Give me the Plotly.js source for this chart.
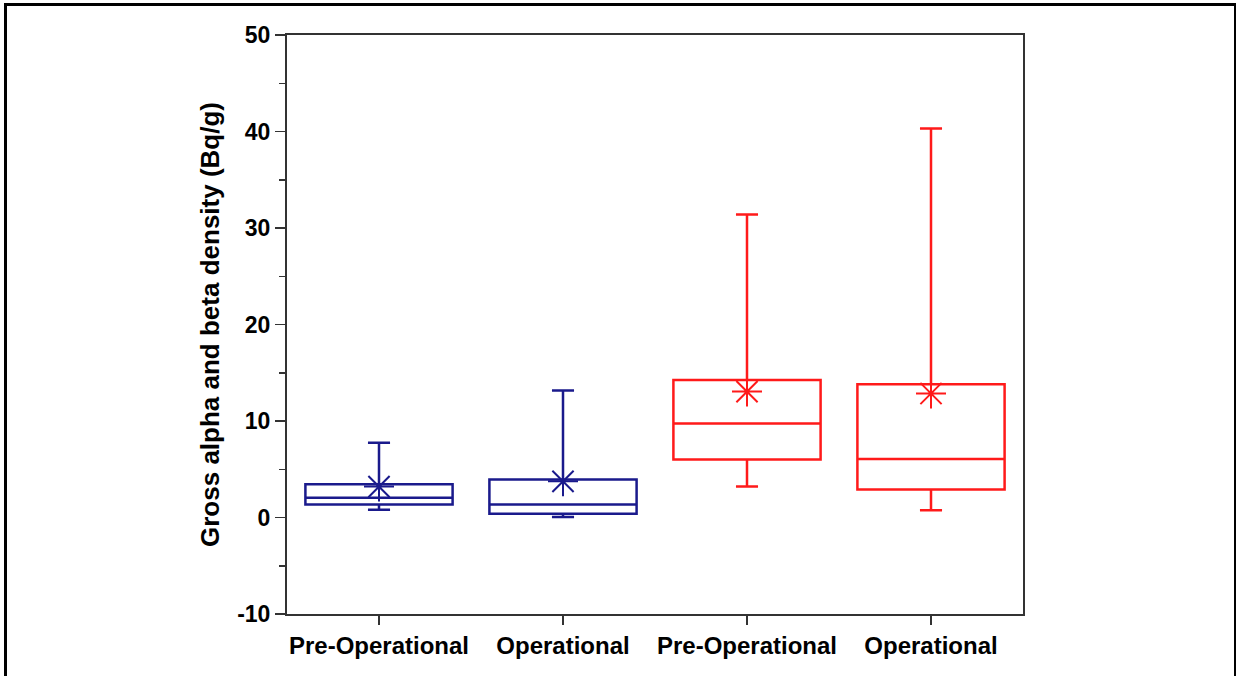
<!DOCTYPE html>
<html>
<head>
<meta charset="utf-8">
<script src="https://cdn.plot.ly/plotly-3.0.1.min.js"></script>
<style>
  html, body { margin: 0; padding: 0; background: #fff; }
  #chart { width: 1236px; height: 676px; position: absolute; left: 0; top: 0; }
  #frame {
    position: absolute; left: 4px; top: 3px; width: 1227px; height: 680px;
    border-left: 3px solid #000; border-top: 3px solid #000; border-right: 3px solid #000;
    pointer-events: none;
  }
</style>
</head>
<body>
<div id="chart"></div>
<div id="frame"></div>
<script>
// Category labels along the x axis
const tickLabels = ["Pre-Operational", "Operational", "Pre-Operational", "Operational"];
const positions = [0, 1, 2, 3];

// Box statistics (Bq/g): alpha group (blue) and beta group (red)
const lowerWhisker = [0.8, 0.05, 3.2, 0.75];
const q1Values     = [1.35, 0.4, 6.0, 2.9];
const medianValues = [2.05, 1.35, 9.75, 6.05];
const q3Values     = [3.45, 3.95, 14.25, 13.8];
const upperWhisker = [7.75, 13.15, 31.4, 40.3];
const meanValues   = [3.2, 3.75, 13.05, 12.85];

const colors = ["#1a1a8c", "#1a1a8c", "#ff1a1a", "#ff1a1a"];

const traces = [];
positions.forEach((p, i) => {
  traces.push({
    type: "box",
    x: [p],
    q1: [q1Values[i]],
    median: [medianValues[i]],
    q3: [q3Values[i]],
    lowerfence: [lowerWhisker[i]],
    upperfence: [upperWhisker[i]],
    width: 0.8,
    whiskerwidth: 0.15,
    fillcolor: "rgba(0,0,0,0)",
    line: { color: colors[i], width: 2.5 },
    boxpoints: false,
    hoverinfo: "skip",
    showlegend: false
  });
  traces.push({
    type: "scatter",
    mode: "markers",
    x: [p],
    y: [meanValues[i]],
    marker: { symbol: "asterisk-open", size: 25, color: colors[i], line: { color: colors[i], width: 2 } },
    hoverinfo: "skip",
    showlegend: false
  });
});

const font = { family: "Liberation Sans, Arial, sans-serif", color: "#000" };

const layout = {
  width: 1236,
  height: 676,
  margin: { l: 287, r: 213, t: 35, b: 62 },
  paper_bgcolor: "#fff",
  plot_bgcolor: "#fff",
  boxmode: "overlay",
  xaxis: {
    range: [-0.5, 3.5],
    tickvals: positions,
    ticktext: tickLabels.map(t => "<b>" + t + "</b>"),
    ticks: "outside",
    ticklen: 9,
    tickwidth: 1.5,
    tickcolor: "#333",
    showline: true,
    linecolor: "#333",
    linewidth: 2,
    mirror: true,
    showgrid: false,
    zeroline: false,
    tickfont: Object.assign({ size: 24 }, font)
  },
  yaxis: {
    range: [-10, 50],
    tickvals: [-10, 0, 10, 20, 30, 40, 50],
    ticktext: ["-10", "0", "10", "20", "30", "40", "50"].map(t => "<b>" + t + "</b>"),
    ticks: "outside",
    ticklen: 10,
    tickwidth: 1.5,
    tickcolor: "#333",
    minor: { tickvals: [-5, 5, 15, 25, 35, 45], ticks: "outside", ticklen: 6, tickwidth: 1.5, tickcolor: "#333", showgrid: false },
    showline: true,
    linecolor: "#333",
    linewidth: 2,
    mirror: true,
    showgrid: false,
    zeroline: false,
    tickfont: Object.assign({ size: 23 }, font),
    title: { text: "<b>Gross alpha and beta density (Bq/g)</b>", font: Object.assign({ size: 26 }, font), standoff: 10 }
  }
};

Plotly.newPlot("chart", traces, layout, { displayModeBar: false, staticPlot: true });
</script>
</body>
</html>
